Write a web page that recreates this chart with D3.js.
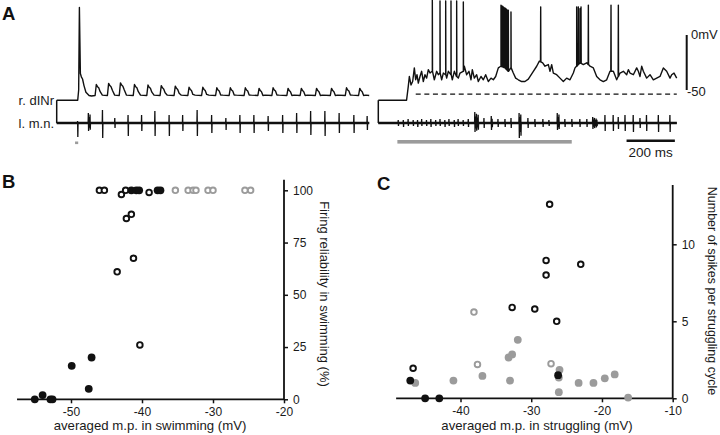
<!DOCTYPE html>
<html><head><meta charset="utf-8">
<script src="https://cdn.jsdelivr.net/npm/d3@7"></script>
<style>
body{margin:0;background:#fff}
svg{font-family:"Liberation Sans",Arial,sans-serif;display:block}
</style>
</head><body>
<svg id="fig" width="720" height="435"></svg>
<script>
// ================= DATA =================
// Panel A, swimming episode: r. dINr membrane potential (ms, mV)
const swimStartTrace = [[0,-59.3],[87,-59.3],[91,-50],[94,25],[98,-35],[102,-38],[107,-40],[113,-46],[121,-52],[134,-55],[144,-55.5]];
const swimOnsets = [159,210,259,317,373,428,486,543,600,658,714,776,833,891,953,1008,1071,1133,1195,1250];
const swimPeaks  = [-45,-44,-43.5,-45,-45.5,-46,-46.5,-47.5,-47.5,-48,-48,-48,-48.5,-48,-48.5,-48.5,-48.5,-48.5,-48,-48.5];
const swimTrough = -55;
const swimEndMs = 1294;
// l. m.n. bursts during swimming: [ms, up, down, spikes in burst]
const swimMN = [[87,2,14,1],[135,10,8,3],[190,13,15,1],[241,5,5,1],[296,8,13,1],[352,8,8,1],[407,12,13,1],[466,8,13,1],[522,8,8,1],[582,13,13,1],[642,8,10,1],[701,5,7,1],[759,8,10,1],[817,8,10,1],[876,7,8,1],[936,8,10,1],[994,10,10,1],[1052,12,12,1],[1111,12,13,1],[1170,10,10,1],[1231,8,10,1],[1286,7,7,1]];

// Panel A, struggling episode: r. dINr membrane potential (ms, mV)
const strugTrace = [[0,-59.3],[117,-59.3],[124,-46.9],[128.5,-37.7],[135.4,-45.4],[142.3,-42.3],[149.2,-29.9],[154.7,-40.7],[160.2,-36.1],[165.7,-43.8],[172.6,-37.7],[179.5,-33.0],[186.4,-42.3],[193.3,-36.1],[200.2,-39.2],[207.1,-31.5],[214.1,-34.6],[223.7,-33.0],[232,-40.7],[241.7,-33.0],[248.6,-36.1],[255.5,-34.6],[262.4,-40.7],[269.3,-34.6],[279,-36.1],[283.1,-39.2],[290,-33.0],[301,-36.1],[306.5,-40.7],[314.8,-33.0],[324.5,-37.7],[331.4,-39.2],[338.3,-34.6],[352.1,-33],[356.2,-28.4],[365.9,-36.1],[375.5,-33.0],[383.8,-40.7],[389.3,-31.5],[397.6,-39.2],[407.3,-36.1],[414.2,-42.3],[425.2,-37.7],[434.9,-40.7],[444.6,-36.1],[455.6,-42.3],[466.7,-39.2],[476.3,-40.7],[486,-37.7],[497,-29.9],[508,-28.4],[524.6,-29.9],[538.4,-33.0],[549.4,-29.9],[559,-34.6],[568.8,-39.2],[579.8,-40.7],[593.6,-42.3],[607.4,-42.3],[621.2,-40.1],[642,-33.0],[655.8,-28.4],[666.8,-23.8],[680.7,-25.3],[690.3,-28.4],[704.1,-26.9],[711,-33.0],[717.9,-26.9],[724.8,-34.6],[738.6,-36.1],[752.4,-39.2],[766.2,-42.3],[780,-39.2],[793.8,-40.7],[807.6,-34.6],[814.5,-29.9],[821.4,-28.4],[835.2,-25.3],[849,-26.9],[862.9,-25.3],[876.7,-28.4],[890.5,-29.9],[904.3,-37.7],[918.1,-40.7],[931.9,-42.3],[945.7,-40.7],[959.5,-33.0],[973.3,-33.0],[987.1,-40.7],[1000.9,-34.6],[1014.7,-33.0],[1028.5,-36.1],[1035.4,-31.5],[1042.3,-34.6],[1056.1,-36.1],[1069.9,-29.9],[1076.8,-33.0],[1083.7,-37.7],[1090.6,-28.4],[1097.5,-33.0],[1111.3,-39.2],[1125.1,-36.1],[1138.9,-40.7],[1152.7,-39.2],[1166.5,-37.7],[1180.3,-29.9],[1194.1,-33.0],[1207.9,-39.2],[1214.8,-36.1],[1224.5,-34.6],[1235.6,-39.2]];
// spikes during struggling: [ms, peak mV]
const strugSpikes = [[223.7,33],[255.5,31],[279,31],[301,31],[324.5,31],[352.1,30],[508,27],[512,26.5],[516,26],[520,25],[524.6,24.5],[528.7,24],[532.8,23],[538.4,22.5],[549.4,21],[672.4,25.6],[821.4,25.6],[828.3,25.6],[835.2,24],[839.4,25.6],[869.8,27.2],[963.6,27.2],[994,27.2]];
// l. m.n. bursts during struggling: [ms, up, down, spikes in burst]
const strugMN = [[83,3,3,1],[104,3,4,1],[124,4,3,1],[145,3,3,1],[163,3,4,1],[180,4,3,1],[200,3,3,1],[218,4,4,1],[238,3,3,1],[256,4,3,1],[276,3,4,1],[293,4,3,1],[315,3,4,1],[331,4,3,1],[352,3,3,1],[373,4,4,1],[407,11,9,5],[438,5,5,1],[470,7,7,2],[496,4,4,1],[525,4,4,1],[550,5,5,1],[587,10,15,3],[620,5,5,1],[649,4,4,1],[682,4,4,1],[707,3,3,1],[745,10,7,3],[773,4,4,1],[802,4,4,1],[835,4,4,1],[864,4,4,1],[897,6,6,6],[939,8,8,1],[973,8,8,1],[994,6,6,1],[1022,8,8,1],[1056,8,9,1],[1084,5,5,1],[1111,8,8,1],[1160,8,9,1],[1208,8,9,1]];
const strugEndMs = 1236;
const stimSwim = [76, 89];       // ms
const stimStrug = [79, 801];     // ms
const refLevel = -53.7;          // mV, dashed reference
const refRange = [155, 1236];    // ms
const timeBar = [1028, 1228];    // 200 ms
const voltBar = [0, -50];        // mV

// Panel B: firing reliability vs averaged m.p. in swimming
const swimFilled = [[-55.1,0],[-54.0,2],[-52.9,0],[-52.6,0],[-49.9,16],[-47.1,20],[-47.5,5],[-41.5,100],[-40.8,100],[-40.4,100],[-37.8,100],[-37.4,100]];
const swimOpen = [[-40.3,26],[-43.5,61],[-41.2,67.5],[-42.2,86.5],[-41.5,88.5],[-46.0,100],[-45.3,100],[-42.9,98],[-42.3,100],[-39.0,99]];
const swimGreyOpen = [[-35.3,100],[-33.5,100],[-32.8,100],[-32.4,100],[-30.7,100],[-30.0,100],[-25.5,100],[-24.7,100]];
const swimXTicks = [-50,-40,-30,-20];
const swimYTicks = [0,25,50,75,100];
const swimXExtent = [-57.6,-20];
const swimYExtent = [0,105];

// Panel C: spikes per struggling cycle vs averaged m.p. in struggling
const strugBlackOpen = [[-46.7,1.95],[-32.7,5.9],[-29.5,5.8],[-26.4,5.0],[-27.4,12.6],[-27.9,8.95],[-27.9,8.0],[-23.0,8.7]];
const strugBlackFilled = [[-47.1,1.15],[-45.0,0],[-43.0,0],[-26.2,1.5]];
const strugGreyOpen = [[-38.1,5.6],[-37.6,2.2],[-27.2,2.25]];
const strugGreyFilled = [[-46.4,1.0],[-41.0,1.15],[-36.9,1.45],[-33.0,1.15],[-33.2,2.65],[-32.7,2.85],[-31.9,3.8],[-26.0,1.85],[-26.1,1.35],[-26.1,0.4],[-23.3,1.0],[-21.2,1.0],[-19.6,1.3],[-18.2,1.55],[-16.3,0.05]];
const strugXTicks = [-40,-30,-20,-10];
const strugYTicks = [0,5,10];
const strugXExtent = [-49.1,-10];
const strugYExtent = [0,13.85];

// ================= DRAWING =================
const svg = d3.select("#fig");
const INK = "#111", GREY = "#9b9b9b", TXT = "#1a1a1a";

// ---- Panel A ----
const pxPerMs = 0.2415;
const xL = d3.scaleLinear().domain([0,1300]).range([56.7, 56.7 + 1300*pxPerMs]);
const xR = d3.scaleLinear().domain([0,1240]).range([378.3, 378.3 + 1240*pxPerMs]);
const vY = d3.scaleLinear().domain([0,-50]).range([35,90]);
const mnY = d3.scaleLinear().domain([-15,15]).range([138,108]);

const A = svg.append("g");
function interp(arr, t){
  const i = d3.bisector(d=>d[0]).left(arr, t);
  if (i<=0) return arr[0][1];
  if (i>=arr.length) return arr[arr.length-1][1];
  const a = arr[i-1], b = arr[i];
  return a[1] + (b[1]-a[1])*(t-a[0])/(b[0]-a[0]);
}
// swimming dINr trace
const swimPts = swimStartTrace.slice();
swimOnsets.forEach((t,i)=>{
  const p = swimPeaks[i];
  swimPts.push([t,swimTrough],[t+5,p],[t+10,p-2],[t+15,p-3],[t+21,p-6.5],[t+30,swimTrough+0.3]);
});
swimPts.push([swimEndMs, swimTrough]);
A.append("path").attr("d", d3.line().x(d=>xL(d[0])).y(d=>vY(d[1]))(swimPts))
  .attr("fill","none").attr("stroke",INK).attr("stroke-width",1.4).attr("stroke-linejoin","round");

// struggling dINr trace with spikes merged in
let strugPts = strugTrace.slice();
strugSpikes.forEach(([t,pk])=>{
  const b = interp(strugTrace, t);
  strugPts.push([t-0.8,b],[t,pk],[t+0.8,b]);
});
strugPts.sort((a,b)=>a[0]-b[0]);
A.append("path").attr("d", d3.line().x(d=>xR(d[0])).y(d=>vY(d[1]))(strugPts))
  .attr("fill","none").attr("stroke",INK).attr("stroke-width",1.4).attr("stroke-linejoin","round");

// dashed reference
A.append("line").attr("x1",xR(refRange[0])).attr("x2",xR(refRange[1]))
  .attr("y1",vY(refLevel)).attr("y2",vY(refLevel))
  .attr("stroke",INK).attr("stroke-width",1.2).attr("stroke-dasharray","5,3.6");

// motor nerve traces
const burstScale = [1,0.6,0.85,0.5,0.75,0.55];
function mnPoints(events, tEnd){
  const pts = [[0,0]];
  events.forEach(([t,up,down,n])=>{
    for (let k=0;k<n;k++){
      const tk = t + (k-(n-1)/2)*3.5;
      const f = burstScale[k % burstScale.length];
      pts.push([tk-1.4,0],[tk-0.5,up*f],[tk+0.5,-down*f],[tk+1.4,0]);
    }
  });
  pts.push([tEnd,0]);
  return pts;
}
[[xL, swimMN, swimEndMs],[xR, strugMN, strugEndMs]].forEach(([xs, ev, tEnd])=>{
  A.append("line").attr("x1",xs(0)).attr("x2",xs(tEnd)).attr("y1",mnY(0)).attr("y2",mnY(0))
    .attr("stroke",INK).attr("stroke-width",2.6);
  A.append("path").attr("d", d3.line().x(d=>xs(d[0])).y(d=>mnY(d[1]))(mnPoints(ev,tEnd)))
    .attr("fill","none").attr("stroke",INK).attr("stroke-width",1.3);
  A.append("line").attr("x1",xs(0)).attr("x2",xs(0)).attr("y1",vY(-59.3)).attr("y2",mnY(0))
    .attr("stroke",INK).attr("stroke-width",1.5);
});

// stimulus bars
A.append("rect").attr("x",xL(stimSwim[0])).attr("width",xL(stimSwim[1])-xL(stimSwim[0]))
  .attr("y",141.5).attr("height",2.6).attr("fill",GREY);
A.append("rect").attr("x",xR(stimStrug[0])).attr("width",xR(stimStrug[1])-xR(stimStrug[0]))
  .attr("y",140).attr("height",3.6).attr("fill",GREY);

// scale bars
A.append("line").attr("x1",xR(timeBar[0])).attr("x2",xR(timeBar[1])).attr("y1",140.7).attr("y2",140.7)
  .attr("stroke",INK).attr("stroke-width",2.6);
A.append("text").attr("x",(xR(timeBar[0])+xR(timeBar[1]))/2).attr("y",157).attr("text-anchor","middle")
  .attr("font-size",13.5).attr("fill",TXT).text("200 ms");
A.append("line").attr("x1",686.7).attr("x2",686.7).attr("y1",vY(voltBar[0])).attr("y2",vY(voltBar[1]))
  .attr("stroke",INK).attr("stroke-width",2);
A.append("text").attr("x",691).attr("y",vY(voltBar[0])+4).attr("font-size",13).attr("fill",TXT).text("0mV");
A.append("text").attr("x",687).attr("y",vY(voltBar[1])+5.5).attr("font-size",13).attr("fill",TXT).text("-50");

// trace labels
A.append("text").attr("x",54).attr("y",vY(-59.3)+4.5).attr("text-anchor","end").attr("font-size",13).attr("fill",TXT).text("r. dINr");
A.append("text").attr("x",54).attr("y",mnY(0)+4.5).attr("text-anchor","end").attr("font-size",13).attr("fill",TXT).text("l. m.n.");

// panel letters
[["A",2,20],["B",2,188],["C",377,190]].forEach(([t,x,y])=>{
  svg.append("text").attr("x",x).attr("y",y).attr("font-size",18.5).attr("font-weight","bold").attr("fill",INK).text(t);
});

// ---- scatter panels ----
function scatterPanel(opt){
  const g = svg.append("g");
  const x = opt.x, y = opt.y;
  g.append("line").attr("x1",x(opt.xExt[0])).attr("x2",x(opt.xExt[1])).attr("y1",y(0)).attr("y2",y(0))
    .attr("stroke",INK).attr("stroke-width",1.8);
  g.append("line").attr("x1",x(opt.xExt[1])).attr("x2",x(opt.xExt[1])).attr("y1",y(opt.yExt[1])).attr("y2",y(0))
    .attr("stroke",INK).attr("stroke-width",1.8);
  const ax = g.append("g").attr("transform",`translate(0,${y(0)})`)
    .call(d3.axisBottom(x).tickValues(opt.xTicks).tickSizeInner(4).tickSizeOuter(0).tickPadding(4).tickFormat(d=>String(d)));
  const ay = g.append("g").attr("transform",`translate(${x(opt.xExt[1])},0)`)
    .call(d3.axisRight(y).tickValues(opt.yTicks).tickSizeInner(4).tickSizeOuter(0).tickPadding(5).tickFormat(d=>String(d)));
  [ax,ay].forEach(a=>{
    a.select(".domain").remove();
    a.selectAll("line").attr("stroke",INK).attr("stroke-width",1.5);
    a.selectAll("text").attr("font-size",12).attr("fill",TXT).attr("font-family","Liberation Sans, Arial, sans-serif");
  });
  ax.selectAll("text").attr("dy","0.71em");
  g.append("text").attr("x",opt.xTitleX).attr("y",429.5).attr("text-anchor","middle")
    .attr("font-size",13.2).attr("fill",TXT).text(opt.xTitle);
  g.append("text").attr("transform",`translate(${opt.yTitleX},${opt.yTitleY}) rotate(90)`)
    .attr("text-anchor","middle").attr("font-size",opt.yTitleSize).attr("fill",TXT).text(opt.yTitle);
  opt.sets.forEach(s=>{
    g.append("g").selectAll("circle").data(s.data).join("circle")
      .attr("cx",d=>x(d[0])).attr("cy",d=>y(d[1]))
      .attr("r", s.filled ? 3.9 : 2.8)
      .attr("fill", s.filled ? s.color : "#fff")
      .attr("stroke", s.color).attr("stroke-width", s.filled ? 0 : 1.9);
  });
}

scatterPanel({
  x: d3.scaleLinear().domain([-50,-20]).range([71,284]),
  y: d3.scaleLinear().domain([0,100]).range([399.3,190.3]),
  xExt: swimXExtent, yExt: swimYExtent, xTicks: swimXTicks, yTicks: swimYTicks,
  xTitle: "averaged m.p. in swimming (mV)", xTitleX: 150,
  yTitle: "Firing reliability in swimming (%)", yTitleX: 320, yTitleY: 294, yTitleSize: 13,
  sets: [
    {data: swimGreyOpen, color: GREY, filled: false},
    {data: swimOpen, color: INK, filled: false},
    {data: swimFilled, color: INK, filled: true}
  ]
});

scatterPanel({
  x: d3.scaleLinear().domain([-40,-10]).range([460.5,672.7]),
  y: d3.scaleLinear().domain([0,10]).range([398.3,244.3]),
  xExt: strugXExtent, yExt: strugYExtent, xTicks: strugXTicks, yTicks: strugYTicks,
  xTitle: "averaged m.p. in struggling (mV)", xTitleX: 537,
  yTitle: "Number of spikes per struggling cycle", yTitleX: 707.5, yTitleY: 291, yTitleSize: 12.5,
  sets: [
    {data: strugGreyFilled, color: GREY, filled: true},
    {data: strugGreyOpen, color: GREY, filled: false},
    {data: strugBlackFilled, color: INK, filled: true},
    {data: strugBlackOpen, color: INK, filled: false}
  ]
});
</script>
</body></html>
